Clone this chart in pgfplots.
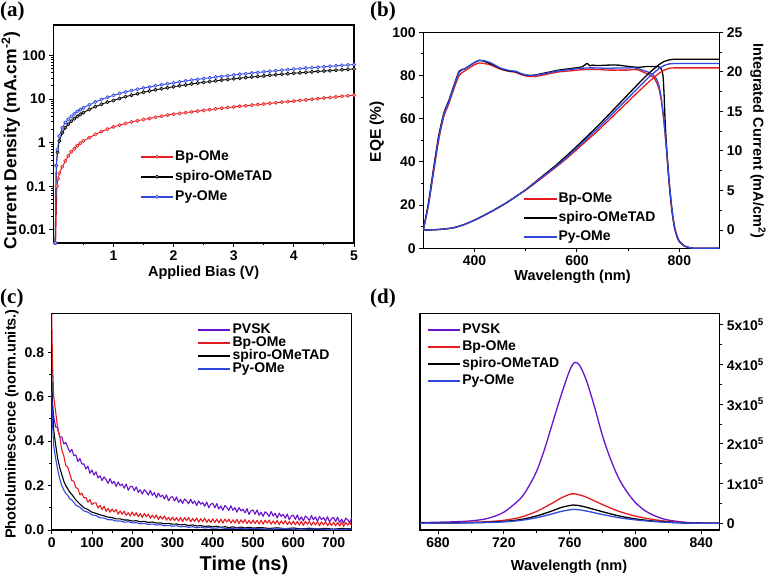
\documentclass[border=0pt]{standalone}
\usepackage{pgfplots}
\pgfplotsset{compat=1.18}
\usepackage{fontspec}
\setmainfont{Liberation Sans}
\newfontfamily\serifb{Liberation Serif}
\definecolor{cred}{RGB}{228,28,32}
\definecolor{cblue}{RGB}{48,72,222}
\definecolor{cpurp}{RGB}{104,18,204}
\pgfplotsset{
 base/.style={
  scale only axis,
  anchor=south west,
  axis line style={line width=1.1pt},
  every tick/.style={line width=0.9pt, black},
  tick align=outside,
  major tick length=4pt, minor tick length=2.5pt,
  tick label style={font=\bfseries\fontsize{14}{14}\selectfont},
  label style={font=\bfseries\fontsize{14.5}{14.5}\selectfont},
  /pgf/number format/assume math mode=true,
  legend style={draw=none, fill=none, inner sep=0pt, anchor=north west,
    font=\bfseries\fontsize{14}{14}\selectfont,
    nodes={inner sep=1.5pt, text height=10pt, text depth=2pt}},
  legend cell align=left,
  legend image code/.code={\draw[mark repeat=2,mark phase=2,##1] plot coordinates {(0pt,0pt) (16pt,0pt) (32pt,0pt)};},
  every axis plot/.append style={line join=round},
 }
}
\begin{document}
\begin{tikzpicture}
%================ (a)
\begin{axis}[base, at={(53.3pt,335pt)}, width=300.7pt, height=218pt,
  xmin=0, xmax=5, ymode=log, ymin=0.005, ymax=500,
  xtick={1,2,3,4,5}, minor xtick={0.5,1.5,2.5,3.5,4.5},
  ytick={0.01,0.1,1,10,100}, yticklabels={0.01,0.1,1,10,100},
  xtick pos=bottom, ytick pos=left,
  xlabel={Applied Bias (V)}, ylabel={Current Density (mA.cm\textsuperscript{-2})},
  xlabel style={at={(axis description cs:0.5,-0.138)}, anchor=center},
  ylabel style={at={(axis description cs:-0.141,0.47)}, anchor=center, font=\bfseries\fontsize{17.5}{17.5}\selectfont},
  legend style={at={(0.288,0.431)}, row sep=5pt},
  legend image post style={line width=1.6pt},
]
\addplot[cred, line width=0.9pt, mark=*, mark size=1.7pt, mark options={fill=cred!35, line width=0.6pt}] coordinates {
(0.04,0.005)(0.06,0.1)(0.08,0.15)(0.1,0.2)(0.15,0.28)(0.2,0.38)(0.25,0.5)(0.3,0.62)(0.35,0.73)(0.4,0.85)(0.45,0.97)(0.5,1.1)(0.6,1.3)(0.7,1.55)(0.8,1.8)(0.9,2.05)(1.0,2.3)(1.1,2.52)(1.2,2.75)(1.3,2.98)(1.4,3.2)(1.5,3.4)(1.6,3.6)(1.7,3.82)(1.8,4.05)(1.9,4.28)(2.0,4.5)(2.1,4.7)(2.2,4.9)(2.3,5.1)(2.4,5.3)(2.5,5.5)(2.6,5.72)(2.7,5.94)(2.8,6.16)(2.9,6.38)(3.0,6.6)(3.1,6.82)(3.2,7.04)(3.3,7.26)(3.4,7.48)(3.5,7.7)(3.6,7.96)(3.7,8.22)(3.8,8.48)(3.9,8.74)(4.0,9.0)(4.1,9.3)(4.2,9.6)(4.3,9.9)(4.4,10.2)(4.5,10.6)(4.6,10.9)(4.7,11.25)(4.8,11.6)(4.9,11.95)(5.0,12.3)};
\addlegendentry{Bp-OMe}
\addplot[black, line width=0.9pt, mark=*, mark size=1.7pt, mark options={fill=white!60!black, line width=0.6pt}] coordinates {
(0.03,0.005)(0.05,0.3)(0.07,0.6)(0.1,1.1)(0.15,1.7)(0.2,2.2)(0.25,2.65)(0.3,3.1)(0.35,3.55)(0.4,4.0)(0.45,4.45)(0.5,4.9)(0.6,5.8)(0.7,6.7)(0.8,7.6)(0.9,8.5)(1.0,9.3)(1.1,10.3)(1.2,11.3)(1.3,12.3)(1.4,13.3)(1.5,14.3)(1.6,15.3)(1.7,16.3)(1.8,17.2)(1.9,18.2)(2.0,19.2)(2.1,20.2)(2.2,21.2)(2.3,22.2)(2.4,23.2)(2.5,24.2)(2.6,25.2)(2.7,26.2)(2.8,27.2)(2.9,28.2)(3.0,29.2)(3.1,30.1)(3.2,31.1)(3.3,32.1)(3.4,33.1)(3.5,34.1)(3.6,35.1)(3.7,36.1)(3.8,37.1)(3.9,38.1)(4.0,39.1)(4.1,40.1)(4.2,41.1)(4.3,42.1)(4.4,43.0)(4.5,44.0)(4.6,45.0)(4.7,46.0)(4.8,47.0)(4.9,48.0)(5.0,49.0)};
\addlegendentry{spiro-OMeTAD}
\addplot[cblue, line width=0.9pt, mark=*, mark size=1.7pt, mark options={fill=cblue!35, line width=0.6pt}] coordinates {
(0.03,0.005)(0.05,0.3)(0.07,0.7)(0.1,1.4)(0.15,2.2)(0.2,2.9)(0.25,3.45)(0.3,4.0)(0.35,4.6)(0.4,5.2)(0.45,5.75)(0.5,6.3)(0.6,7.4)(0.7,8.6)(0.8,9.8)(0.9,11.0)(1.0,12.2)(1.1,13.4)(1.2,14.5)(1.3,15.7)(1.4,16.8)(1.5,17.9)(1.6,19.0)(1.7,20.2)(1.8,21.3)(1.9,22.4)(2.0,23.6)(2.1,24.8)(2.2,26.0)(2.3,27.2)(2.4,28.4)(2.5,29.6)(2.6,30.8)(2.7,32.0)(2.8,33.2)(2.9,34.4)(3.0,35.6)(3.1,36.9)(3.2,38.2)(3.3,39.5)(3.4,40.8)(3.5,42.1)(3.6,43.4)(3.7,44.7)(3.8,46.0)(3.9,47.3)(4.0,48.6)(4.1,49.9)(4.2,51.2)(4.3,52.5)(4.4,53.8)(4.5,55.1)(4.6,56.5)(4.7,57.9)(4.8,59.3)(4.9,60.7)(5.0,62.0)};
\addlegendentry{Py-OMe}
\end{axis}
%================ (b)
\begin{axis}[base, at={(423.3pt,329.7pt)}, width=296pt, height=216pt,
  xmin=300, xmax=878, ymin=0, ymax=100,
  xtick={400,600,800}, minor xtick={500,700},
  ytick={0,20,40,60,80,100}, minor y tick num=1,
  xtick pos=bottom, ytick pos=left,
  xlabel={Wavelength (nm)}, ylabel={EQE (\%)},
  xlabel style={at={(axis description cs:0.504,-0.131)}, anchor=center},
  ylabel style={at={(axis description cs:-0.157,0.54)}, anchor=center, font=\bfseries\fontsize{15.5}{15.5}\selectfont},
  legend style={at={(0.337,0.265)}, row sep=4pt},
  legend image post style={line width=1.8pt},
]
\addplot[cred, line width=1.3pt, smooth, tension=0.4] coordinates {
(300,8.5)(310,20)(320,35)(330,50)(340,61)(350,67)(360,74)(370,80)(380,82)(390,83.5)(400,85)(410,85.8)(420,85.5)(430,85)(440,84)(450,83)(460,82.3)(470,81.8)(480,81.5)(490,80.5)(500,79.8)(510,79.5)(520,79.6)(530,80)(540,80.5)(550,81)(560,81.5)(570,81.8)(580,82)(590,82.2)(600,82.5)(620,82.8)(640,82.8)(660,82.5)(680,82.5)(700,82.5)(710,82.8)(720,82.5)(730,81.5)(740,80.5)(750,79)(755,77)(760,74)(765,68)(770,58)(775,45)(780,30)(785,18)(790,10)(795,5.5)(800,3)(810,1)(820,0.3)(830,0)(878,0)};
\addlegendentry{Bp-OMe}
\addplot[black, line width=1.3pt, smooth, tension=0.4] coordinates {
(300,8.5)(310,21)(320,37)(330,52)(340,62.5)(350,68.5)(360,75.5)(370,82)(380,83)(390,84.5)(400,86)(410,87)(420,86.5)(430,85.5)(440,84.5)(450,83.3)(460,82.5)(470,82)(480,81.8)(490,80.8)(500,80.2)(510,80)(520,80.3)(530,80.8)(540,81.3)(550,81.8)(560,82.3)(570,82.7)(580,83)(590,83.3)(600,83.6)(610,84)(620,85.6)(625,84.5)(630,84.8)(640,84.6)(660,84.8)(680,84.8)(700,84.2)(720,83.8)(740,84.2)(760,84)(765,83)(768,80)(770,72)(772,60)(775,47)(780,31)(785,19)(790,10.5)(795,6)(800,3.2)(810,1.1)(820,0.3)(830,0)(878,0)};
\addlegendentry{spiro-OMeTAD}
\addplot[cblue, line width=1.3pt, smooth, tension=0.4] coordinates {
(300,8.5)(310,20)(320,36)(330,51)(340,62)(350,68)(360,75)(370,81.5)(380,83)(390,84.5)(400,86)(410,87)(420,86.8)(430,86)(440,84.8)(450,83.5)(460,82.8)(470,82.2)(480,82)(490,81)(500,80.3)(510,80)(520,80.2)(530,80.5)(540,81)(550,81.5)(560,82)(570,82.3)(580,82.6)(590,82.8)(600,83.2)(620,83.5)(640,83.5)(660,83.3)(680,83.5)(700,83.5)(710,83.6)(720,83.2)(730,82.3)(740,81.5)(750,80)(755,78.5)(760,75.5)(765,69)(770,59)(775,46)(780,31)(785,19)(790,10.5)(795,6)(800,3.2)(810,1.1)(820,0.3)(830,0)(878,0)};
\addlegendentry{Py-OMe}
\end{axis}
\begin{axis}[base, at={(423.3pt,329.7pt)}, width=296pt, height=216pt,
  xmin=300, xmax=878, ymin=-2.31, ymax=25,
  axis x line=none, axis y line*=right,
  ytick={0,5,10,15,20,25}, minor y tick num=1,
  ylabel={Integrated Current (mA/cm\textsuperscript{2})},
  ylabel style={at={(axis description cs:1.131,0.497)}, anchor=center, rotate=180},
]
\addplot[cred, line width=1.3pt, smooth, tension=0.4] coordinates {
(300,0)(320,0.03)(340,0.12)(360,0.3)(380,0.7)(400,1.25)(420,1.9)(440,2.6)(460,3.35)(480,4.2)(500,5.05)(520,6.0)(540,7.0)(560,8.0)(580,9.05)(600,10.2)(620,11.35)(640,12.5)(660,13.75)(680,15.0)(700,16.25)(720,17.5)(740,18.7)(760,19.8)(770,20.2)(780,20.45)(790,20.5)(800,20.5)(878,20.5)};
\addplot[black, line width=1.3pt, smooth, tension=0.4] coordinates {
(300,0)(320,0.03)(340,0.12)(360,0.3)(380,0.7)(400,1.25)(420,1.9)(440,2.6)(460,3.35)(480,4.2)(500,5.1)(520,6.15)(540,7.2)(560,8.25)(580,9.4)(600,10.6)(620,11.85)(640,13.1)(660,14.45)(680,15.8)(700,17.15)(720,18.5)(740,19.8)(760,20.9)(770,21.3)(780,21.5)(790,21.6)(800,21.6)(878,21.6)};
\addplot[cblue, line width=1.3pt, smooth, tension=0.4] coordinates {
(300,0)(320,0.03)(340,0.12)(360,0.3)(380,0.7)(400,1.25)(420,1.9)(440,2.6)(460,3.35)(480,4.2)(500,5.1)(520,6.1)(540,7.1)(560,8.1)(580,9.2)(600,10.4)(620,11.6)(640,12.8)(660,14.1)(680,15.4)(700,16.7)(720,18.0)(740,19.3)(760,20.4)(770,20.8)(780,21.0)(790,21.05)(800,21.05)(878,21.05)};
\end{axis}
%================ (c)
\begin{axis}[base, at={(51.7pt,48pt)}, width=300pt, height=216.7pt,
  xmin=0, xmax=745, ymin=0, ymax=0.975,
  xtick={0,100,...,700}, minor x tick num=1,
  ytick={0,0.2,0.4,0.6,0.8}, yticklabels={0.0,0.2,0.4,0.6,0.8}, minor y tick num=1,
  xtick pos=bottom, ytick pos=left,
  xlabel={Time (ns)}, ylabel={Photoluminescence (norm.units.)},
  xlabel style={at={(axis description cs:0.641,-0.162)}, anchor=center, font=\bfseries\fontsize{20}{20}\selectfont},
  ylabel style={at={(axis description cs:-0.133,0.489)}, anchor=center},
  legend style={at={(0.484,0.96)}, row sep=-2pt},
  legend image post style={line width=2pt},
]
\addplot[cpurp, line width=1.1pt] coordinates {
(0,0.62)(5,0.51)(10,0.462)(15,0.462)(20,0.419)(25,0.419)(30,0.387)(35,0.394)(40,0.372)(45,0.35)(50,0.363)(55,0.334)(60,0.338)(65,0.308)(70,0.321)(75,0.297)(80,0.297)(85,0.274)(90,0.287)(95,0.255)(100,0.27)(105,0.247)(110,0.262)(115,0.234)(120,0.244)(125,0.222)(130,0.239)(135,0.227)(140,0.21)(145,0.231)(150,0.209)(155,0.219)(160,0.196)(165,0.216)(170,0.199)(175,0.207)(180,0.188)(185,0.207)(190,0.179)(195,0.195)(200,0.197)(205,0.177)(210,0.194)(215,0.169)(220,0.181)(225,0.162)(230,0.181)(235,0.172)(240,0.157)(245,0.178)(250,0.156)(255,0.168)(260,0.145)(265,0.166)(270,0.149)(275,0.157)(280,0.139)(285,0.158)(290,0.131)(295,0.147)(300,0.15)(305,0.13)(310,0.149)(315,0.124)(320,0.138)(325,0.119)(330,0.14)(335,0.131)(340,0.118)(345,0.139)(350,0.119)(355,0.131)(360,0.11)(365,0.131)(370,0.116)(375,0.124)(380,0.107)(385,0.126)(390,0.1)(395,0.116)(400,0.12)(405,0.1)(410,0.119)(415,0.094)(420,0.108)(425,0.089)(430,0.11)(435,0.101)(440,0.088)(445,0.109)(450,0.089)(455,0.101)(460,0.08)(465,0.101)(470,0.086)(475,0.094)(480,0.077)(485,0.096)(490,0.07)(495,0.086)(500,0.09)(505,0.071)(510,0.09)(515,0.066)(520,0.08)(525,0.061)(530,0.082)(535,0.074)(540,0.061)(545,0.083)(550,0.063)(555,0.075)(560,0.054)(565,0.076)(570,0.061)(575,0.07)(580,0.053)(585,0.072)(590,0.046)(595,0.063)(600,0.067)(605,0.048)(610,0.068)(615,0.044)(620,0.059)(625,0.041)(630,0.063)(635,0.055)(640,0.043)(645,0.065)(650,0.046)(655,0.059)(660,0.039)(665,0.061)(670,0.047)(675,0.056)(680,0.04)(685,0.06)(690,0.035)(695,0.052)(700,0.057)(705,0.038)(710,0.058)(715,0.034)(720,0.049)(725,0.031)(730,0.053)(735,0.046)(740,0.033)(745,0.055)};
\addlegendentry{PVSK}
\addplot[cred, line width=1.1pt] coordinates {
(0,0.97)(2,0.75)(5,0.6)(10,0.53)(15,0.452)(20,0.42)(25,0.36)(30,0.334)(35,0.29)(40,0.283)(45,0.252)(50,0.222)(55,0.22)(60,0.19)(65,0.187)(70,0.158)(75,0.166)(80,0.145)(85,0.146)(90,0.125)(95,0.137)(100,0.114)(105,0.122)(110,0.122)(115,0.099)(120,0.111)(125,0.092)(130,0.107)(135,0.084)(140,0.097)(145,0.08)(150,0.095)(155,0.081)(160,0.092)(165,0.071)(170,0.086)(175,0.071)(180,0.085)(185,0.066)(190,0.078)(195,0.063)(200,0.081)(205,0.064)(210,0.078)(215,0.06)(220,0.074)(225,0.056)(230,0.074)(235,0.06)(240,0.071)(245,0.053)(250,0.067)(255,0.053)(260,0.068)(265,0.047)(270,0.063)(275,0.049)(280,0.063)(285,0.044)(290,0.057)(295,0.043)(300,0.058)(305,0.042)(310,0.056)(315,0.04)(320,0.056)(325,0.038)(330,0.056)(335,0.043)(340,0.056)(345,0.037)(350,0.052)(355,0.039)(360,0.054)(365,0.035)(370,0.051)(375,0.038)(380,0.053)(385,0.034)(390,0.048)(395,0.034)(400,0.05)(405,0.034)(410,0.049)(415,0.032)(420,0.049)(425,0.031)(430,0.049)(435,0.036)(440,0.049)(445,0.031)(450,0.046)(455,0.032)(460,0.048)(465,0.029)(470,0.046)(475,0.032)(480,0.047)(485,0.029)(490,0.043)(495,0.029)(500,0.045)(505,0.029)(510,0.044)(515,0.027)(520,0.044)(525,0.026)(530,0.044)(535,0.031)(540,0.044)(545,0.026)(550,0.041)(555,0.027)(560,0.043)(565,0.024)(570,0.041)(575,0.027)(580,0.042)(585,0.024)(590,0.038)(595,0.024)(600,0.04)(605,0.024)(610,0.039)(615,0.022)(620,0.039)(625,0.021)(630,0.039)(635,0.026)(640,0.039)(645,0.021)(650,0.036)(655,0.023)(660,0.038)(665,0.019)(670,0.036)(675,0.023)(680,0.037)(685,0.019)(690,0.033)(695,0.02)(700,0.035)(705,0.019)(710,0.034)(715,0.018)(720,0.035)(725,0.016)(730,0.034)(735,0.022)(740,0.035)(745,0.016)};
\addlegendentry{Bp-OMe}
\addplot[black, line width=1.1pt] coordinates {
(0,0.72)(2,0.55)(5,0.45)(10,0.38)(15,0.32)(20,0.28)(25,0.25)(30,0.22)(35,0.2)(40,0.185)(45,0.17)(50,0.16)(60,0.135)(70,0.117)(80,0.1)(90,0.092)(100,0.08)(110,0.075)(120,0.068)(130,0.064)(140,0.058)(150,0.056)(160,0.05)(170,0.05)(180,0.045)(190,0.045)(200,0.04)(210,0.042)(220,0.037)(230,0.039)(240,0.034)(250,0.036)(260,0.031)(270,0.032)(280,0.028)(290,0.03)(300,0.026)(310,0.027)(320,0.023)(330,0.025)(340,0.02)(350,0.023)(360,0.018)(370,0.02)(380,0.016)(390,0.018)(400,0.014)(410,0.017)(420,0.012)(430,0.015)(440,0.011)(450,0.014)(460,0.01)(470,0.013)(480,0.009)(490,0.012)(500,0.009)(520,0.011)(540,0.007)(560,0.01)(580,0.006)(600,0.009)(620,0.005)(640,0.008)(660,0.005)(680,0.007)(700,0.004)(720,0.007)(745,0.005)};
\addlegendentry{spiro-OMeTAD}
\addplot[cblue, line width=1.1pt] coordinates {
(0,0.62)(2,0.48)(5,0.38)(10,0.32)(15,0.27)(20,0.23)(25,0.2)(30,0.18)(35,0.165)(40,0.155)(45,0.14)(50,0.135)(60,0.112)(70,0.102)(80,0.086)(90,0.08)(100,0.068)(110,0.065)(120,0.055)(130,0.054)(140,0.046)(150,0.046)(160,0.04)(170,0.041)(180,0.035)(190,0.037)(200,0.032)(210,0.033)(220,0.028)(230,0.03)(240,0.025)(250,0.027)(260,0.022)(270,0.024)(280,0.019)(290,0.021)(300,0.017)(310,0.019)(320,0.014)(330,0.016)(340,0.012)(350,0.015)(360,0.01)(370,0.013)(380,0.009)(390,0.011)(400,0.008)(420,0.01)(440,0.006)(460,0.009)(480,0.005)(500,0.007)(540,0.004)(580,0.006)(620,0.003)(660,0.005)(700,0.002)(745,0.004)};
\addlegendentry{Py-OMe}
\end{axis}
%================ (d)
\begin{axis}[base, at={(420pt,48pt)}, width=299.3pt, height=216.7pt,
  xmin=669, xmax=851, ymin=-17000, ymax=529000,
  scaled y ticks=false,
  xtick={680,720,760,800,840}, minor x tick num=1,
  ytick={0,100000,200000,300000,400000,500000},
  yticklabels={0,1x10\textsuperscript{5},2x10\textsuperscript{5},3x10\textsuperscript{5},4x10\textsuperscript{5},5x10\textsuperscript{5}},
  minor y tick num=1,
  xtick pos=bottom, ytick pos=right,
  xlabel={Wavelength (nm)},
  xlabel style={at={(axis description cs:0.498,-0.169)}, anchor=center},
  legend style={at={(0.022,0.96)}, row sep=2pt},
  legend image post style={line width=2pt},
]
\addplot[cpurp, line width=1.3pt, smooth, tension=0.5] coordinates {
(669,1500)(680,2600)(690,3800)(700,6000)(710,12000)(720,28000)(730,62000)(735,92000)(740,132000)(745,190000)(750,258000)(755,325000)(760,385000)(763,405000)(766,398000)(770,362000)(775,295000)(780,220000)(785,160000)(790,112000)(795,78000)(800,52000)(805,34000)(810,22000)(815,13500)(820,8000)(830,2500)(840,600)(851,0)};
\addlegendentry{PVSK}
\addplot[cred, line width=1.3pt, smooth, tension=0.5] coordinates {
(669,450)(680,900)(690,1500)(700,2500)(710,4000)(720,7500)(730,15000)(740,30000)(750,52000)(755,64000)(761,74000)(765,72500)(770,66000)(780,47000)(790,30000)(800,18000)(810,10000)(820,4500)(830,1500)(840,300)(851,0)};
\addlegendentry{Bp-OMe}
\addplot[black, line width=1.3pt, smooth, tension=0.5] coordinates {
(669,280)(680,550)(690,900)(700,1500)(710,2500)(720,4600)(730,9200)(740,18500)(750,32000)(755,40000)(762,46000)(765,45000)(770,40500)(780,29000)(790,18500)(800,11000)(810,6000)(820,2800)(830,900)(840,200)(851,0)};
\addlegendentry{spiro-OMeTAD}
\addplot[cblue, line width=1.3pt, smooth, tension=0.5] coordinates {
(669,230)(680,400)(690,700)(700,1200)(710,1900)(720,3500)(730,7000)(740,14000)(750,24400)(755,30000)(762,35000)(765,34200)(770,31000)(780,22000)(790,14000)(800,8500)(810,4700)(820,2100)(830,700)(840,150)(851,0)};
\addlegendentry{Py-OMe}
\end{axis}
%================ panel labels
\node[anchor=north west, inner sep=0pt, font=\serifb\bfseries\fontsize{21}{21}\selectfont] at (0pt,576pt) {(a)};
\node[anchor=north west, inner sep=0pt, font=\serifb\bfseries\fontsize{21}{21}\selectfont] at (370pt,576pt) {(b)};
\node[anchor=north west, inner sep=0pt, font=\serifb\bfseries\fontsize{21}{21}\selectfont] at (0pt,289pt) {(c)};
\node[anchor=north west, inner sep=0pt, font=\serifb\bfseries\fontsize{21}{21}\selectfont] at (370pt,289pt) {(d)};
\pgfresetboundingbox
\useasboundingbox (0pt,0pt) rectangle (770pt,578pt);
\end{tikzpicture}
\end{document}
